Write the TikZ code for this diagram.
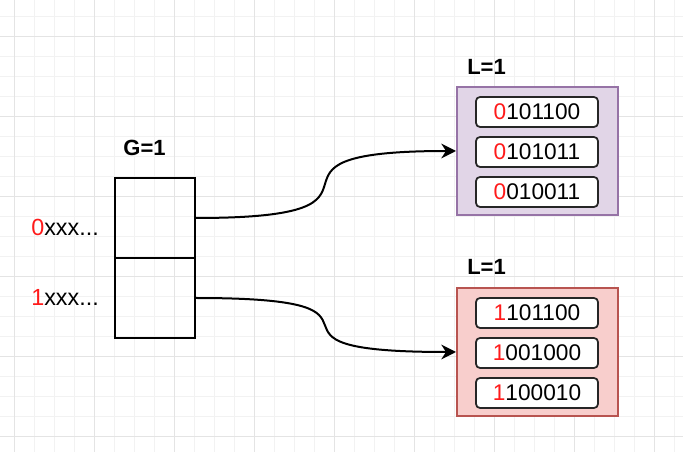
\documentclass[tikz,border=0pt]{standalone}
\usepackage{fontspec}
\setmainfont{Liberation Sans}
\usetikzlibrary{arrows.meta}
\usepackage{xcolor}
\definecolor{gridminor}{HTML}{F2F2F2}
\definecolor{gridmajor}{HTML}{E4E4E4}
\definecolor{lowfill}{HTML}{E1D5E7}
\definecolor{lowdraw}{HTML}{9673A6}
\definecolor{highfill}{HTML}{F8CECC}
\definecolor{highdraw}{HTML}{B85450}
\definecolor{bitred}{HTML}{FF1A1A}

\begin{document}
\begin{tikzpicture}[x=0.75pt, y=-0.75pt,
  cell/.style={draw, line width=1.5pt, minimum width=60pt, minimum height=60pt,
               inner sep=0pt},
  bucket/.style={line width=1.5pt, minimum width=120.75pt, minimum height=96pt,
                 inner sep=0pt},
  entry/.style={draw=black!85, fill=white, line width=1.3pt, rounded corners=3pt,
                minimum width=91.5pt, minimum height=22.5pt, inner sep=0pt,
                font=\fontsize{17}{20}\selectfont},
  title/.style={font=\bfseries\fontsize{16.5}{18}\selectfont, inner sep=0pt},
  keytext/.style={font=\fontsize{17.5}{20}\selectfont, inner sep=0pt},
  link/.style={line width=1.5pt, -{Stealth[length=11pt, width=11pt, inset=3.5pt]}},
]
  \useasboundingbox (0,0) rectangle (683,452);

  % Background grid
  \foreach \i in {0,...,33} {
    \draw[gridminor, line width=0.75pt] (14.5+20*\i, 0) -- (14.5+20*\i, 452);
  }
  \foreach \j in {0,...,22} {
    \draw[gridminor, line width=0.75pt] (0, 17+20*\j) -- (683, 17+20*\j);
  }
  \foreach \i in {0,...,8} {
    \draw[gridmajor, line width=0.75pt] (14.5+80*\i, 0) -- (14.5+80*\i, 452);
  }
  \foreach \j in {0,...,5} {
    \draw[gridmajor, line width=0.75pt] (0, 37+80*\j) -- (683, 37+80*\j);
  }

  % Global directory
  \node[title, anchor=base] (gdepth) at (144.5,156) {G=1};
  \node[cell] (g0) at (155,218) {};
  \node[cell] (g1) at (155,298) {};
  \node[keytext, anchor=base east] (k0) at (99,236) {\textcolor{bitred}{0}xxx...};
  \node[keytext, anchor=base east] (k1) at (99,306) {\textcolor{bitred}{1}xxx...};

  % Bucket for prefix 0
  \node[title, anchor=base west] (ldepth0) at (467,75) {L=1};
  \node[bucket, fill=lowfill, draw=lowdraw] (b0) at (537.5,151) {};
  \node[entry] (e01) at (537,112) {\textcolor{bitred}{0}101100};
  \node[entry] (e02) at (537,152) {\textcolor{bitred}{0}101011};
  \node[entry] (e03) at (537,192) {\textcolor{bitred}{0}010011};

  % Bucket for prefix 1
  \node[title, anchor=base west] (ldepth1) at (467,275) {L=1};
  \node[bucket, fill=highfill, draw=highdraw] (b1) at (537.5,352) {};
  \node[entry] (e11) at (537,313) {\textcolor{bitred}{1}101100};
  \node[entry] (e12) at (537,353) {\textcolor{bitred}{1}001000};
  \node[entry] (e13) at (537,393) {\textcolor{bitred}{1}100010};

  % Pointers
  \draw[link] (g0.east) .. controls +(235,0) and +(-235,0) .. (b0.west);
  \draw[link] (g1.east) .. controls +(235,0) and +(-235,0) .. (b1.west);
\end{tikzpicture}
\end{document}
